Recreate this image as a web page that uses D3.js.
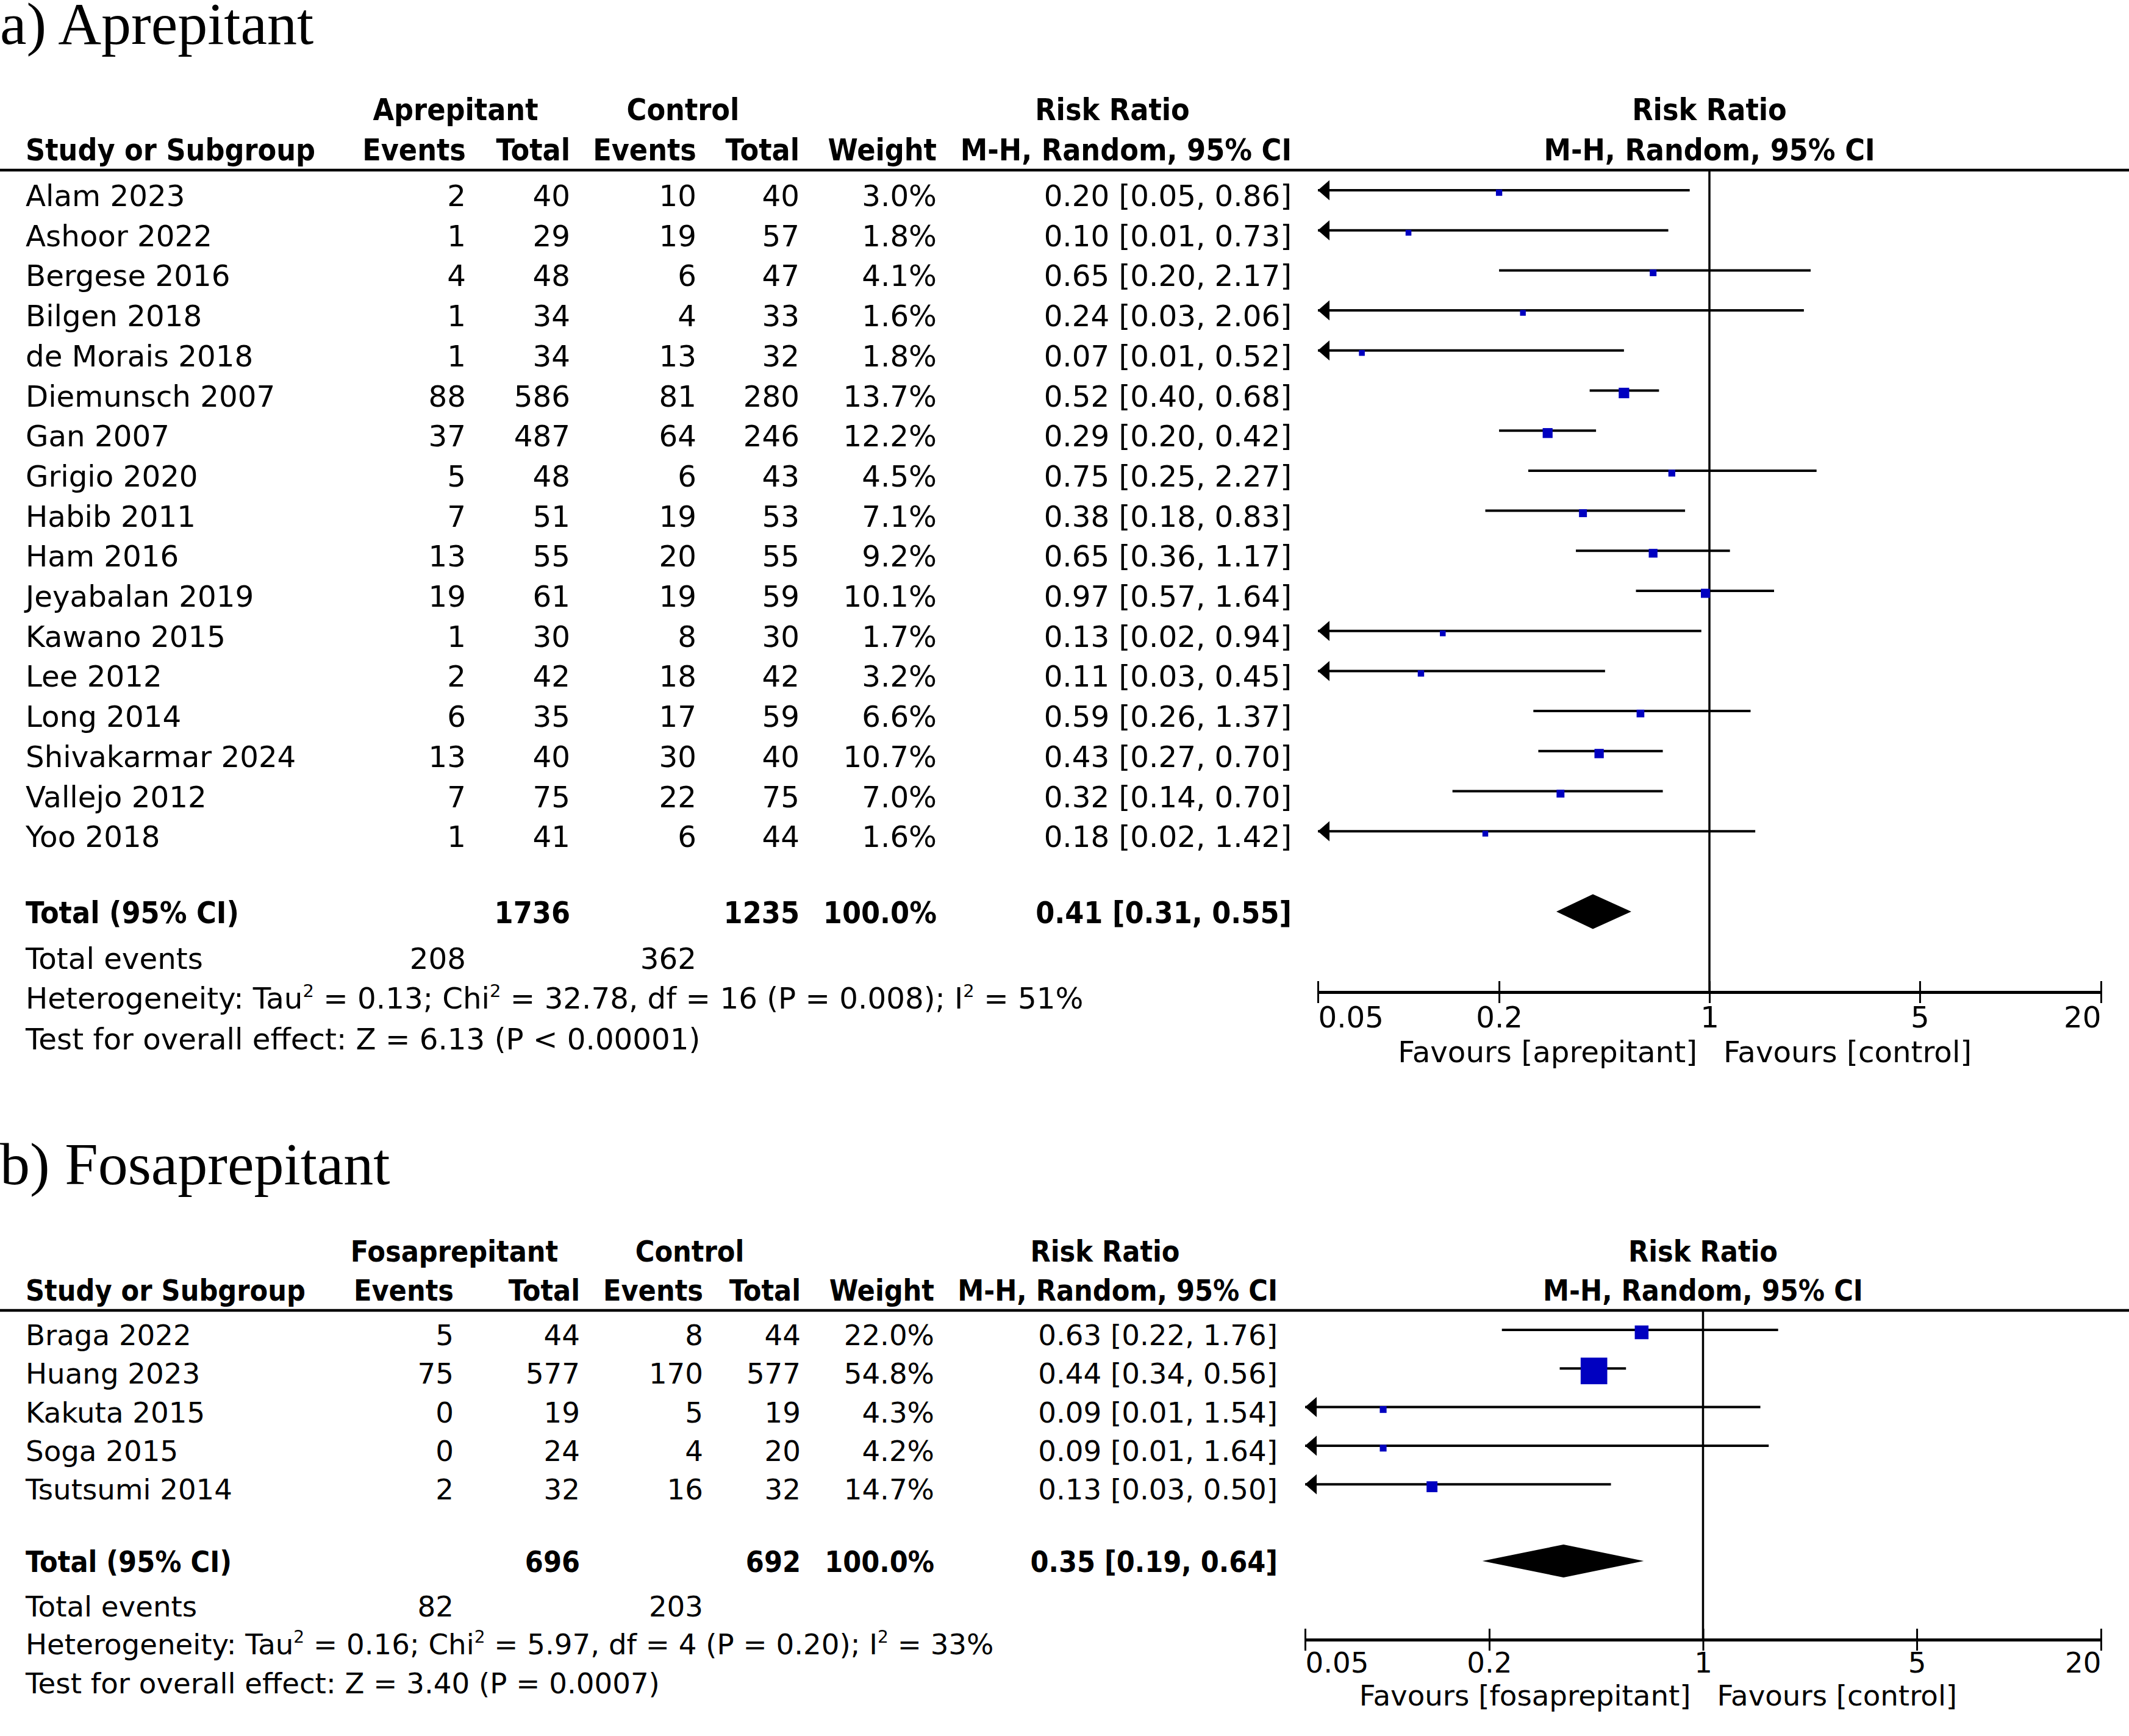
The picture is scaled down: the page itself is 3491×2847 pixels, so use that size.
<!DOCTYPE html>
<html>
<head>
<meta charset="utf-8">
<script src="https://cdn.jsdelivr.net/npm/d3@7"></script>
<style>
  body { margin: 0; background: #fff; }
  svg { display: block; }
</style>
</head>
<body>
<div id="app"></div>
<script>
// ---- Data: a) Aprepitant ----
const studiesA = ["Alam 2023", "Ashoor 2022", "Bergese 2016", "Bilgen 2018", "de Morais 2018",
  "Diemunsch 2007", "Gan 2007", "Grigio 2020", "Habib 2011", "Ham 2016", "Jeyabalan 2019",
  "Kawano 2015", "Lee 2012", "Long 2014", "Shivakarmar 2024", "Vallejo 2012", "Yoo 2018"];
const expEventsA = [2, 1, 4, 1, 1, 88, 37, 5, 7, 13, 19, 1, 2, 6, 13, 7, 1];
const expTotalA = [40, 29, 48, 34, 34, 586, 487, 48, 51, 55, 61, 30, 42, 35, 40, 75, 41];
const ctlEventsA = [10, 19, 6, 4, 13, 81, 64, 6, 19, 20, 19, 8, 18, 17, 30, 22, 6];
const ctlTotalA = [40, 57, 47, 33, 32, 280, 246, 43, 53, 55, 59, 30, 42, 59, 40, 75, 44];
const weightA = [3.0, 1.8, 4.1, 1.6, 1.8, 13.7, 12.2, 4.5, 7.1, 9.2, 10.1, 1.7, 3.2, 6.6, 10.7, 7.0, 1.6];
const rrA = [0.20, 0.10, 0.65, 0.24, 0.07, 0.52, 0.29, 0.75, 0.38, 0.65, 0.97, 0.13, 0.11, 0.59, 0.43, 0.32, 0.18];
const loA = [0.05, 0.01, 0.20, 0.03, 0.01, 0.40, 0.20, 0.25, 0.18, 0.36, 0.57, 0.02, 0.03, 0.26, 0.27, 0.14, 0.02];
const hiA = [0.86, 0.73, 2.17, 2.06, 0.52, 0.68, 0.42, 2.27, 0.83, 1.17, 1.64, 0.94, 0.45, 1.37, 0.70, 0.70, 1.42];
const totalA = { exp: 1736, ctl: 1235, rr: 0.41, lo: 0.31, hi: 0.55, expEv: 208, ctlEv: 362 };
const hetA = "Heterogeneity: Tau^2 = 0.13; Chi^2 = 32.78, df = 16 (P = 0.008); I^2 = 51%";
const testA = "Test for overall effect: Z = 6.13 (P < 0.00001)";

// ---- Data: b) Fosaprepitant ----
const studiesB = ["Braga 2022", "Huang 2023", "Kakuta 2015", "Soga 2015", "Tsutsumi 2014"];
const expEventsB = [5, 75, 0, 0, 2];
const expTotalB = [44, 577, 19, 24, 32];
const ctlEventsB = [8, 170, 5, 4, 16];
const ctlTotalB = [44, 577, 19, 20, 32];
const weightB = [22.0, 54.8, 4.3, 4.2, 14.7];
const rrB = [0.63, 0.44, 0.09, 0.09, 0.13];
const loB = [0.22, 0.34, 0.01, 0.01, 0.03];
const hiB = [1.76, 0.56, 1.54, 1.64, 0.50];
const totalB = { exp: 696, ctl: 692, rr: 0.35, lo: 0.19, hi: 0.64, expEv: 82, ctlEv: 203 };
const hetB = "Heterogeneity: Tau^2 = 0.16; Chi^2 = 5.97, df = 4 (P = 0.20); I^2 = 33%";
const testB = "Test for overall effect: Z = 3.40 (P = 0.0007)";

// axis ticks
const tickValues = [0.05, 0.2, 1, 5, 20];
const tickLabels = ["0.05", "0.2", "1", "5", "20"];

const width = 3491;
const height = 2847;
const SANS = "'DejaVu Sans', sans-serif";
const SANS_BOLD = "'DejaVu Sans Condensed', 'DejaVu Sans', sans-serif";
const SERIF = "'Liberation Serif', 'DejaVu Serif', serif";

const svg = d3.select("#app").append("svg")
  .attr("width", width)
  .attr("height", height)
  .style("background", "#fff");

// square side grows with the study weight
const sizeScale = d3.scaleLinear().domain([0, 100]).range([8.4, 72.7]);

function addText(g, str, x, y, opts) {
  const size = opts.size;
  const t = g.append("text")
    .attr("x", x)
    .attr("y", y)
    .attr("font-family", opts.bold ? SANS_BOLD : SANS)
    .attr("font-size", size)
    .attr("font-weight", opts.bold ? "bold" : "normal")
    .attr("text-anchor", opts.anchor || "start")
    .attr("fill", "#000");
  // "^2" marks a superscript 2
  const parts = str.split("^2");
  parts.forEach((p, i) => {
    if (i > 0) {
      t.append("tspan").attr("dy", -size * 0.4).attr("font-size", size * 0.6).text("2");
      t.append("tspan").attr("dy", size * 0.4).text(p);
    } else {
      t.append("tspan").text(p);
    }
  });
  return t;
}

function fmt2(v) { return v.toFixed(2); }

function drawPanel(c, d) {
  const g = svg.append("g");
  const fs = c.fontSize;
  const bs = c.boldSize;
  const x = d3.scaleLog().domain([0.05, 20]).range(c.xRange);
  const x1 = x(1);

  // Title
  g.append("text")
    .attr("x", 0).attr("y", c.titleY)
    .attr("font-family", SERIF).attr("font-size", c.titleSize)
    .text(c.title);

  // Group headers
  addText(g, c.expLabel, c.groupX.exp, c.groupY, { size: bs, bold: true, anchor: "middle" });
  addText(g, "Control", c.groupX.ctl, c.groupY, { size: bs, bold: true, anchor: "middle" });
  addText(g, "Risk Ratio", c.groupX.rr, c.groupY, { size: bs, bold: true, anchor: "middle" });
  addText(g, "Risk Ratio", x1, c.groupY, { size: bs, bold: true, anchor: "middle" });

  // Column headers
  const hy = c.headY;
  addText(g, "Study or Subgroup", c.cols.name, hy, { size: bs, bold: true });
  addText(g, "Events", c.cols.ev, hy, { size: bs, bold: true, anchor: "end" });
  addText(g, "Total", c.cols.tot, hy, { size: bs, bold: true, anchor: "end" });
  addText(g, "Events", c.cols.cev, hy, { size: bs, bold: true, anchor: "end" });
  addText(g, "Total", c.cols.ctot, hy, { size: bs, bold: true, anchor: "end" });
  addText(g, "Weight", c.cols.wt, hy, { size: bs, bold: true, anchor: "end" });
  addText(g, "M-H, Random, 95% CI", c.cols.rr, hy, { size: bs, bold: true, anchor: "end" });
  addText(g, "M-H, Random, 95% CI", x1, hy, { size: bs, bold: true, anchor: "middle" });

  // Header rule
  g.append("line")
    .attr("x1", 0).attr("x2", width)
    .attr("y1", c.lineY).attr("y2", c.lineY)
    .attr("stroke", "#000").attr("stroke-width", 4.5);

  // Line of no effect
  g.append("line")
    .attr("x1", x1).attr("x2", x1)
    .attr("y1", c.lineY).attr("y2", c.axisY)
    .attr("stroke", "#000").attr("stroke-width", 3.5);

  // Study rows
  d.studies.forEach((s, i) => {
    const y = c.row0 + i * c.rowStep;
    addText(g, s, c.cols.name, y, { size: fs });
    addText(g, String(d.expEv[i]), c.cols.ev, y, { size: fs, anchor: "end" });
    addText(g, String(d.expTot[i]), c.cols.tot, y, { size: fs, anchor: "end" });
    addText(g, String(d.ctlEv[i]), c.cols.cev, y, { size: fs, anchor: "end" });
    addText(g, String(d.ctlTot[i]), c.cols.ctot, y, { size: fs, anchor: "end" });
    addText(g, d.weight[i].toFixed(1) + "%", c.cols.wt, y, { size: fs, anchor: "end" });
    addText(g, `${fmt2(d.rr[i])} [${fmt2(d.lo[i])}, ${fmt2(d.hi[i])}]`, c.cols.rr, y,
      { size: fs, anchor: "end" });

    const cy = y - c.ciOffset;
    const clipped = d.lo[i] <= 0.05;
    const xa = clipped ? x(0.05) : x(d.lo[i]);
    g.append("line")
      .attr("x1", xa).attr("x2", x(Math.min(d.hi[i], 20)))
      .attr("y1", cy).attr("y2", cy)
      .attr("stroke", "#000").attr("stroke-width", 4);
    if (clipped) {
      g.append("path")
        .attr("d", `M${xa},${cy} L${xa + 19},${cy - 16.5} L${xa + 19},${cy + 16.5} Z`)
        .attr("fill", "#000");
    }
    const side = sizeScale(d.weight[i]);
    g.append("rect")
      .attr("x", x(d.rr[i]) - side / 2)
      .attr("y", cy + 4 - side / 2)
      .attr("width", side).attr("height", side)
      .attr("fill", "#0000c0");
  });

  // Total row
  const ty = c.totalY;
  addText(g, "Total (95% CI)", c.cols.name, ty, { size: bs, bold: true });
  addText(g, String(d.total.exp), c.cols.tot, ty, { size: bs, bold: true, anchor: "end" });
  addText(g, String(d.total.ctl), c.cols.ctot, ty, { size: bs, bold: true, anchor: "end" });
  addText(g, "100.0%", c.cols.wt, ty, { size: bs, bold: true, anchor: "end" });
  addText(g, `${fmt2(d.total.rr)} [${fmt2(d.total.lo)}, ${fmt2(d.total.hi)}]`, c.cols.rr, ty,
    { size: bs, bold: true, anchor: "end" });

  const dy = ty - c.ciOffset + 7;
  g.append("path")
    .attr("d", `M${x(d.total.lo)},${dy} L${x(d.total.rr)},${dy - c.diamondH} ` +
      `L${x(d.total.hi)},${dy} L${x(d.total.rr)},${dy + c.diamondH} Z`)
    .attr("fill", "#000");

  addText(g, "Total events", c.cols.name, c.eventsY, { size: fs });
  addText(g, String(d.total.expEv), c.cols.ev, c.eventsY, { size: fs, anchor: "end" });
  addText(g, String(d.total.ctlEv), c.cols.cev, c.eventsY, { size: fs, anchor: "end" });
  addText(g, d.het, c.cols.name, c.hetY, { size: fs });
  addText(g, d.test, c.cols.name, c.testY, { size: fs });

  // Axis
  const axis = d3.axisBottom(x)
    .tickValues(tickValues)
    .tickFormat((v, i) => tickLabels[i])
    .tickSizeOuter(0)
    .tickSizeInner(18);
  const ag = g.append("g")
    .attr("transform", `translate(0, ${c.axisY})`)
    .call(axis);
  ag.select(".domain").attr("stroke", "#000").attr("stroke-width", 5);
  ag.selectAll(".tick line")
    .attr("y1", -18).attr("y2", 18)
    .attr("stroke", "#000").attr("stroke-width", 3);
  ag.selectAll(".tick text")
    .attr("y", c.tickLabelY - c.axisY)
    .attr("dy", 0)
    .attr("font-family", SANS)
    .attr("font-size", fs)
    .attr("fill", "#000")
    .attr("text-anchor", (v, i) => i === 0 ? "start" : (i === tickValues.length - 1 ? "end" : "middle"));

  addText(g, `Favours [${c.favLabel}]`, x1 - 20, c.favY, { size: fs, anchor: "end" });
  addText(g, "Favours [control]", x1 + 23, c.favY, { size: fs });
}

drawPanel({
  title: "a) Aprepitant", titleY: 72, titleSize: 98,
  expLabel: "Aprepitant", favLabel: "aprepitant",
  fontSize: 48.3, boldSize: 49.7,
  groupY: 197, headY: 263, lineY: 279,
  row0: 338, rowStep: 65.7, ciOffset: 26,
  totalY: 1514, eventsY: 1589, hetY: 1654, testY: 1721,
  axisY: 1627, tickLabelY: 1685, favY: 1742, diamondH: 28.5,
  xRange: [2161, 3445],
  cols: { name: 42, ev: 764, tot: 935, cev: 1142, ctot: 1311, wt: 1536, rr: 2118 },
  groupX: { exp: 747, ctl: 1120, rr: 1824 }
}, {
  studies: studiesA, expEv: expEventsA, expTot: expTotalA, ctlEv: ctlEventsA, ctlTot: ctlTotalA,
  weight: weightA, rr: rrA, lo: loA, hi: hiA, total: totalA, het: hetA, test: testA
});

drawPanel({
  title: "b) Fosaprepitant", titleY: 1942, titleSize: 98,
  expLabel: "Fosaprepitant", favLabel: "fosaprepitant",
  fontSize: 46.7, boldSize: 48,
  groupY: 2069, headY: 2133, lineY: 2149,
  row0: 2206, rowStep: 63.3, ciOffset: 25,
  totalY: 2578, eventsY: 2651, hetY: 2713, testY: 2777,
  axisY: 2689, tickLabelY: 2743, favY: 2797, diamondH: 27,
  xRange: [2140, 3445],
  cols: { name: 42, ev: 744, tot: 951, cev: 1153, ctot: 1313, wt: 1532, rr: 2095 },
  groupX: { exp: 745, ctl: 1131, rr: 1812 }
}, {
  studies: studiesB, expEv: expEventsB, expTot: expTotalB, ctlEv: ctlEventsB, ctlTot: ctlTotalB,
  weight: weightB, rr: rrB, lo: loB, hi: hiB, total: totalB, het: hetB, test: testB
});
</script>
</body>
</html>
